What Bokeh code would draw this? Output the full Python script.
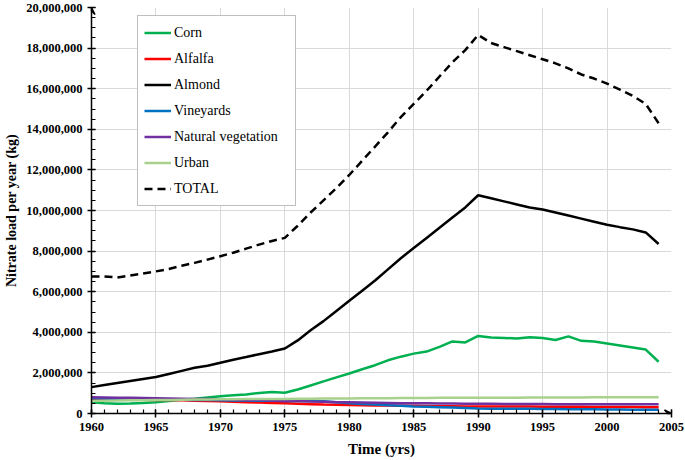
import numpy as np
from bokeh.plotting import figure
from bokeh.models import (Range1d, SingleIntervalTicker, NumeralTickFormatter,
                          Arrow, VeeHead)
from bokeh.embed import file_html
from bokeh.resources import INLINE

years = list(range(1960, 2005))

# Nitrate load per year, millions of kg
corn = [0.55, 0.50, 0.48, 0.49, 0.52, 0.56, 0.62, 0.68, 0.73, 0.79,
        0.85, 0.90, 0.94, 1.01, 1.06, 1.02, 1.18, 1.38, 1.58, 1.78,
        1.97, 2.18, 2.38, 2.62, 2.80, 2.95, 3.05, 3.28, 3.55, 3.50,
        3.82, 3.74, 3.72, 3.70, 3.76, 3.72, 3.62, 3.80, 3.58, 3.55,
        3.45, 3.35, 3.25, 3.15, 2.55]
alfalfa = [0.72, 0.71, 0.70, 0.69, 0.68, 0.67, 0.66, 0.65, 0.63, 0.61,
           0.60, 0.58, 0.56, 0.54, 0.52, 0.50, 0.48, 0.46, 0.44, 0.43,
           0.42, 0.41, 0.40, 0.39, 0.38, 0.38, 0.37, 0.36, 0.36, 0.35,
           0.35, 0.35, 0.34, 0.34, 0.34, 0.33, 0.33, 0.33, 0.33, 0.32,
           0.32, 0.32, 0.32, 0.31, 0.31]
almond = [1.30, 1.40, 1.50, 1.60, 1.70, 1.80, 1.95, 2.10, 2.25, 2.35,
          2.50, 2.65, 2.78, 2.92, 3.05, 3.20, 3.60, 4.10, 4.55, 5.05,
          5.55, 6.05, 6.55, 7.10, 7.65, 8.15, 8.65, 9.15, 9.65, 10.15,
          10.75, 10.60, 10.45, 10.30, 10.15, 10.05, 9.90, 9.75, 9.60, 9.45,
          9.30, 9.18, 9.07, 8.92, 8.35]
vineyards = [0.75, 0.74, 0.73, 0.72, 0.71, 0.70, 0.69, 0.68, 0.67, 0.66,
             0.65, 0.64, 0.64, 0.63, 0.63, 0.62, 0.62, 0.61, 0.60, 0.55,
             0.50, 0.47, 0.44, 0.41, 0.38, 0.35, 0.33, 0.31, 0.29, 0.27,
             0.25, 0.24, 0.24, 0.23, 0.23, 0.22, 0.22, 0.21, 0.21, 0.21,
             0.20, 0.20, 0.19, 0.19, 0.18]
natural = [0.80, 0.79, 0.78, 0.77, 0.76, 0.75, 0.74, 0.73, 0.72, 0.71,
           0.70, 0.69, 0.67, 0.66, 0.64, 0.62, 0.61, 0.59, 0.58, 0.56,
           0.55, 0.54, 0.53, 0.52, 0.51, 0.50, 0.50, 0.49, 0.49, 0.48,
           0.48, 0.48, 0.47, 0.47, 0.47, 0.47, 0.46, 0.46, 0.46, 0.46,
           0.46, 0.45, 0.45, 0.45, 0.45]
urban = [0.62, 0.63, 0.64, 0.65, 0.65, 0.66, 0.67, 0.68, 0.69, 0.69,
         0.70, 0.70, 0.71, 0.71, 0.72, 0.72, 0.73, 0.73, 0.74, 0.74,
         0.74, 0.75, 0.75, 0.75, 0.76, 0.76, 0.76, 0.77, 0.77, 0.77,
         0.78, 0.78, 0.78, 0.78, 0.79, 0.79, 0.79, 0.79, 0.79, 0.80,
         0.80, 0.80, 0.80, 0.80, 0.80]
total = [6.75, 6.75, 6.70, 6.80, 6.90, 7.00, 7.12, 7.28, 7.42, 7.58,
         7.75, 7.92, 8.12, 8.32, 8.50, 8.65, 9.25, 9.90, 10.50, 11.10,
         11.75, 12.45, 13.15, 13.85, 14.60, 15.25, 15.90, 16.60, 17.30, 17.90,
         18.65, 18.25, 18.05, 17.85, 17.65, 17.45, 17.25, 17.00, 16.70, 16.50,
         16.25, 15.95, 15.65, 15.25, 14.30]

series = [
    ("Corn", corn, "#00B050", "solid"),
    ("Alfalfa", alfalfa, "#FF0000", "solid"),
    ("Almond", almond, "#000000", "solid"),
    ("Vineyards", vineyards, "#0070C0", "solid"),
    ("Natural vegetation", natural, "#7030A0", "solid"),
    ("Urban", urban, "#A9D18E", "solid"),
    ("TOTAL", total, "#000000", "8 5"),
]

SERIF = "Times New Roman"

p = figure(width=685, height=460, output_backend="svg", toolbar_location=None,
           x_range=Range1d(1960, 2005), y_range=Range1d(0, 20_000_000),
           min_border_left=91, min_border_right=14, min_border_top=7,
           min_border_bottom=47)
p.outline_line_color = None
p.background_fill_color = "white"

for name, vals, color, dash in series:
    p.line(years, np.array(vals) * 1e6, line_color=color, line_width=2.5,
           line_dash=dash, legend_label=name)

# axes
p.xaxis.ticker = SingleIntervalTicker(interval=5, num_minor_ticks=5)
p.yaxis.ticker = SingleIntervalTicker(interval=2_000_000, num_minor_ticks=4)
p.yaxis.formatter = NumeralTickFormatter(format="0,0")
for ax in (p.xaxis[0], p.yaxis[0]):
    ax.axis_line_color = "black"
    ax.axis_line_width = 1.5
    ax.major_tick_line_color = "black"
    ax.major_tick_line_width = 1.5
    ax.minor_tick_line_color = "black"
    ax.minor_tick_line_width = 1.2
    ax.major_tick_in = 4
    ax.major_tick_out = 4
    ax.minor_tick_in = 4
    ax.minor_tick_out = 0
    ax.major_label_text_font = SERIF
    ax.major_label_text_font_style = "bold"
    ax.major_label_text_font_size = "12.5px"
    ax.major_label_text_color = "black"
    ax.axis_label_text_font = SERIF
    ax.axis_label_text_font_style = "bold"
    ax.axis_label_text_color = "black"

p.xaxis.major_label_standoff = 5
p.xaxis.axis_label_standoff = 7
p.yaxis.major_label_standoff = 5
p.yaxis.axis_label_standoff = 4

p.xaxis.axis_label = "Time (yrs)"
p.xaxis.axis_label_text_font_size = "15px"
p.yaxis.axis_label = "Nitrate load per year (kg)"
p.yaxis.axis_label_text_font_size = "14px"

p.xgrid.grid_line_color = "#D9D9D9"
p.ygrid.grid_line_color = "#D9D9D9"
p.xgrid.grid_line_width = 1
p.ygrid.grid_line_width = 1

# axis arrow heads
p.add_layout(Arrow(end=VeeHead(size=7, line_color="black", line_width=1.5, fill_color=None),
                   x_start=2004.6, y_start=0, x_end=2005, y_end=0,
                   line_color="black", line_width=1.5))
p.add_layout(Arrow(end=VeeHead(size=7, line_color="black", line_width=1.5, fill_color=None),
                   x_start=1960, y_start=19_800_000, x_end=1960, y_end=20_000_000,
                   line_color="black", line_width=1.5))

# legend
lg = p.legend[0]
lg.location = (46, 207)
lg.border_line_color = "#808080"
lg.border_line_width = 1
lg.background_fill_color = "white"
lg.background_fill_alpha = 1
lg.label_text_font = SERIF
lg.label_text_font_size = "14px"
lg.label_text_color = "black"
lg.glyph_width = 27
lg.glyph_height = 21
lg.label_height = 21
lg.label_width = 115
lg.label_standoff = 3
lg.spacing = 5
lg.padding = 6
lg.margin = 0

open("out.html", "w").write(file_html(p, INLINE))
